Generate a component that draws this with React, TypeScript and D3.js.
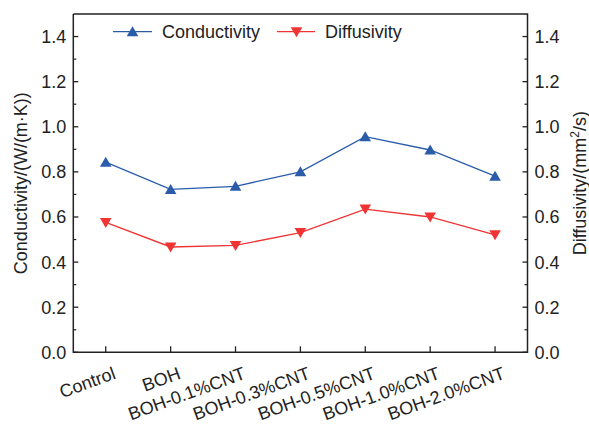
import * as d3 from "d3";

const categories = [
  "Control",
  "BOH",
  "BOH-0.1%CNT",
  "BOH-0.3%CNT",
  "BOH-0.5%CNT",
  "BOH-1.0%CNT",
  "BOH-2.0%CNT",
];
const conductivity = [0.843, 0.722, 0.736, 0.8, 0.956, 0.897, 0.781];
const diffusivity = [0.576, 0.467, 0.474, 0.531, 0.635, 0.6, 0.521];
const yTicks = [0, 0.2, 0.4, 0.6, 0.8, 1.0, 1.2, 1.4];
const yMinor = [0.1, 0.3, 0.5, 0.7, 0.9, 1.1, 1.3];

const BLUE = "#2a5caa";
const RED = "#f03333";
const AX = "#222";
const FONT = "'Liberation Sans', Arial, sans-serif";
const FS = 18;

// triangle markers, centred on the data point
const triUp = (s: number) => `M0,${-s * 0.55}L${s * 0.58},${s * 0.45}L${-s * 0.58},${s * 0.45}Z`;
const triDown = (s: number) => `M0,${s * 0.55}L${s * 0.58},${-s * 0.45}L${-s * 0.58},${-s * 0.45}Z`;

export default function App() {
  const W = 589;
  const H = 424;
  const left = 73.3;
  const right = 527.5;
  const top = 14;
  const bottom = 352.3;

  const x = d3.scalePoint<string>().domain(categories).range([left, right]).padding(0.5);
  const y = d3.scaleLinear().domain([0, 1.5]).range([bottom, top]);

  const line = d3
    .line<number>()
    .x((_, i) => x(categories[i]) as number)
    .y((d) => y(d));

  return (
    <svg
      width={W}
      height={H}
      style={{ position: "absolute", left: 0, top: 0, fontFamily: FONT }}
    >
      <rect width={W} height={H} fill="#fff" />
      {/* series */}
      <path d={line(conductivity) ?? ""} fill="none" stroke={BLUE} strokeWidth={1.3} />
      <path d={line(diffusivity) ?? ""} fill="none" stroke={RED} strokeWidth={1.3} />
      {conductivity.map((v, i) => (
        <path
          key={`c${i}`}
          d={triUp(10)}
          transform={`translate(${x(categories[i])},${y(v)})`}
          fill={BLUE}
        />
      ))}
      {diffusivity.map((v, i) => (
        <path
          key={`d${i}`}
          d={triDown(10)}
          transform={`translate(${x(categories[i])},${y(v)})`}
          fill={RED}
        />
      ))}

      {/* frame */}
      <path
        d={`M${left},${top}V${bottom}H${right}V${top}H${left}`}
        fill="none"
        stroke={AX}
        strokeWidth={1.5}
      />

      {/* y ticks both sides, inward */}
      {yTicks.map((t) => (
        <g key={`yt${t}`}>
          <line x1={left} x2={left + 5} y1={y(t)} y2={y(t)} stroke={AX} strokeWidth={1.3} />
          <line x1={right} x2={right - 5} y1={y(t)} y2={y(t)} stroke={AX} strokeWidth={1.3} />
          <text x={left - 7} y={y(t)} dy="0.36em" textAnchor="end" fontSize={FS} fill={AX}>
            {t.toFixed(1)}
          </text>
          <text x={right + 7} y={y(t)} dy="0.36em" textAnchor="start" fontSize={FS} fill={AX}>
            {t.toFixed(1)}
          </text>
        </g>
      ))}
      {yMinor.map((t) => (
        <g key={`ym${t}`}>
          <line x1={left} x2={left + 3} y1={y(t)} y2={y(t)} stroke={AX} strokeWidth={1.2} />
          <line x1={right} x2={right - 3} y1={y(t)} y2={y(t)} stroke={AX} strokeWidth={1.2} />
        </g>
      ))}

      {/* x ticks and labels */}
      {categories.map((c) => (
        <g key={c}>
          <line x1={x(c)} x2={x(c)} y1={bottom} y2={bottom - 6} stroke={AX} strokeWidth={1.3} />
          <text
            transform={`translate(${(x(c) as number) + 11},${bottom + 26}) rotate(-20)`}
            textAnchor="end"
            fontSize={FS}
            fill={AX}
          >
            {c}
          </text>
        </g>
      ))}

      {/* axis titles */}
      <text
        transform={`translate(27,${(top + bottom) / 2}) rotate(-90)`}
        textAnchor="middle"
        fontSize={FS}
        fill={AX}
      >
        Conductivity/(W/(m·K))
      </text>
      <text
        transform={`translate(586,${(top + bottom) / 2}) rotate(-90)`}
        textAnchor="middle"
        fontSize={FS}
        fill={AX}
      >
        Diffusivity/(mm
        <tspan baselineShift="super" fontSize={12}>
          2
        </tspan>
        /s)
      </text>

      {/* legend */}
      <g>
        <line x1={113} x2={152} y1={31.7} y2={31.7} stroke={BLUE} strokeWidth={1.3} />
        <path d={triUp(10)} transform="translate(132.5,31.7)" fill={BLUE} />
        <text x={162} y={31.7} dy="0.36em" fontSize={FS} fill={AX}>
          Conductivity
        </text>
        <line x1={277} x2={315} y1={31.7} y2={31.7} stroke={RED} strokeWidth={1.3} />
        <path d={triDown(10)} transform="translate(296.5,31.7)" fill={RED} />
        <text x={325} y={31.7} dy="0.36em" fontSize={FS} fill={AX}>
          Diffusivity
        </text>
      </g>
    </svg>
  );
}
